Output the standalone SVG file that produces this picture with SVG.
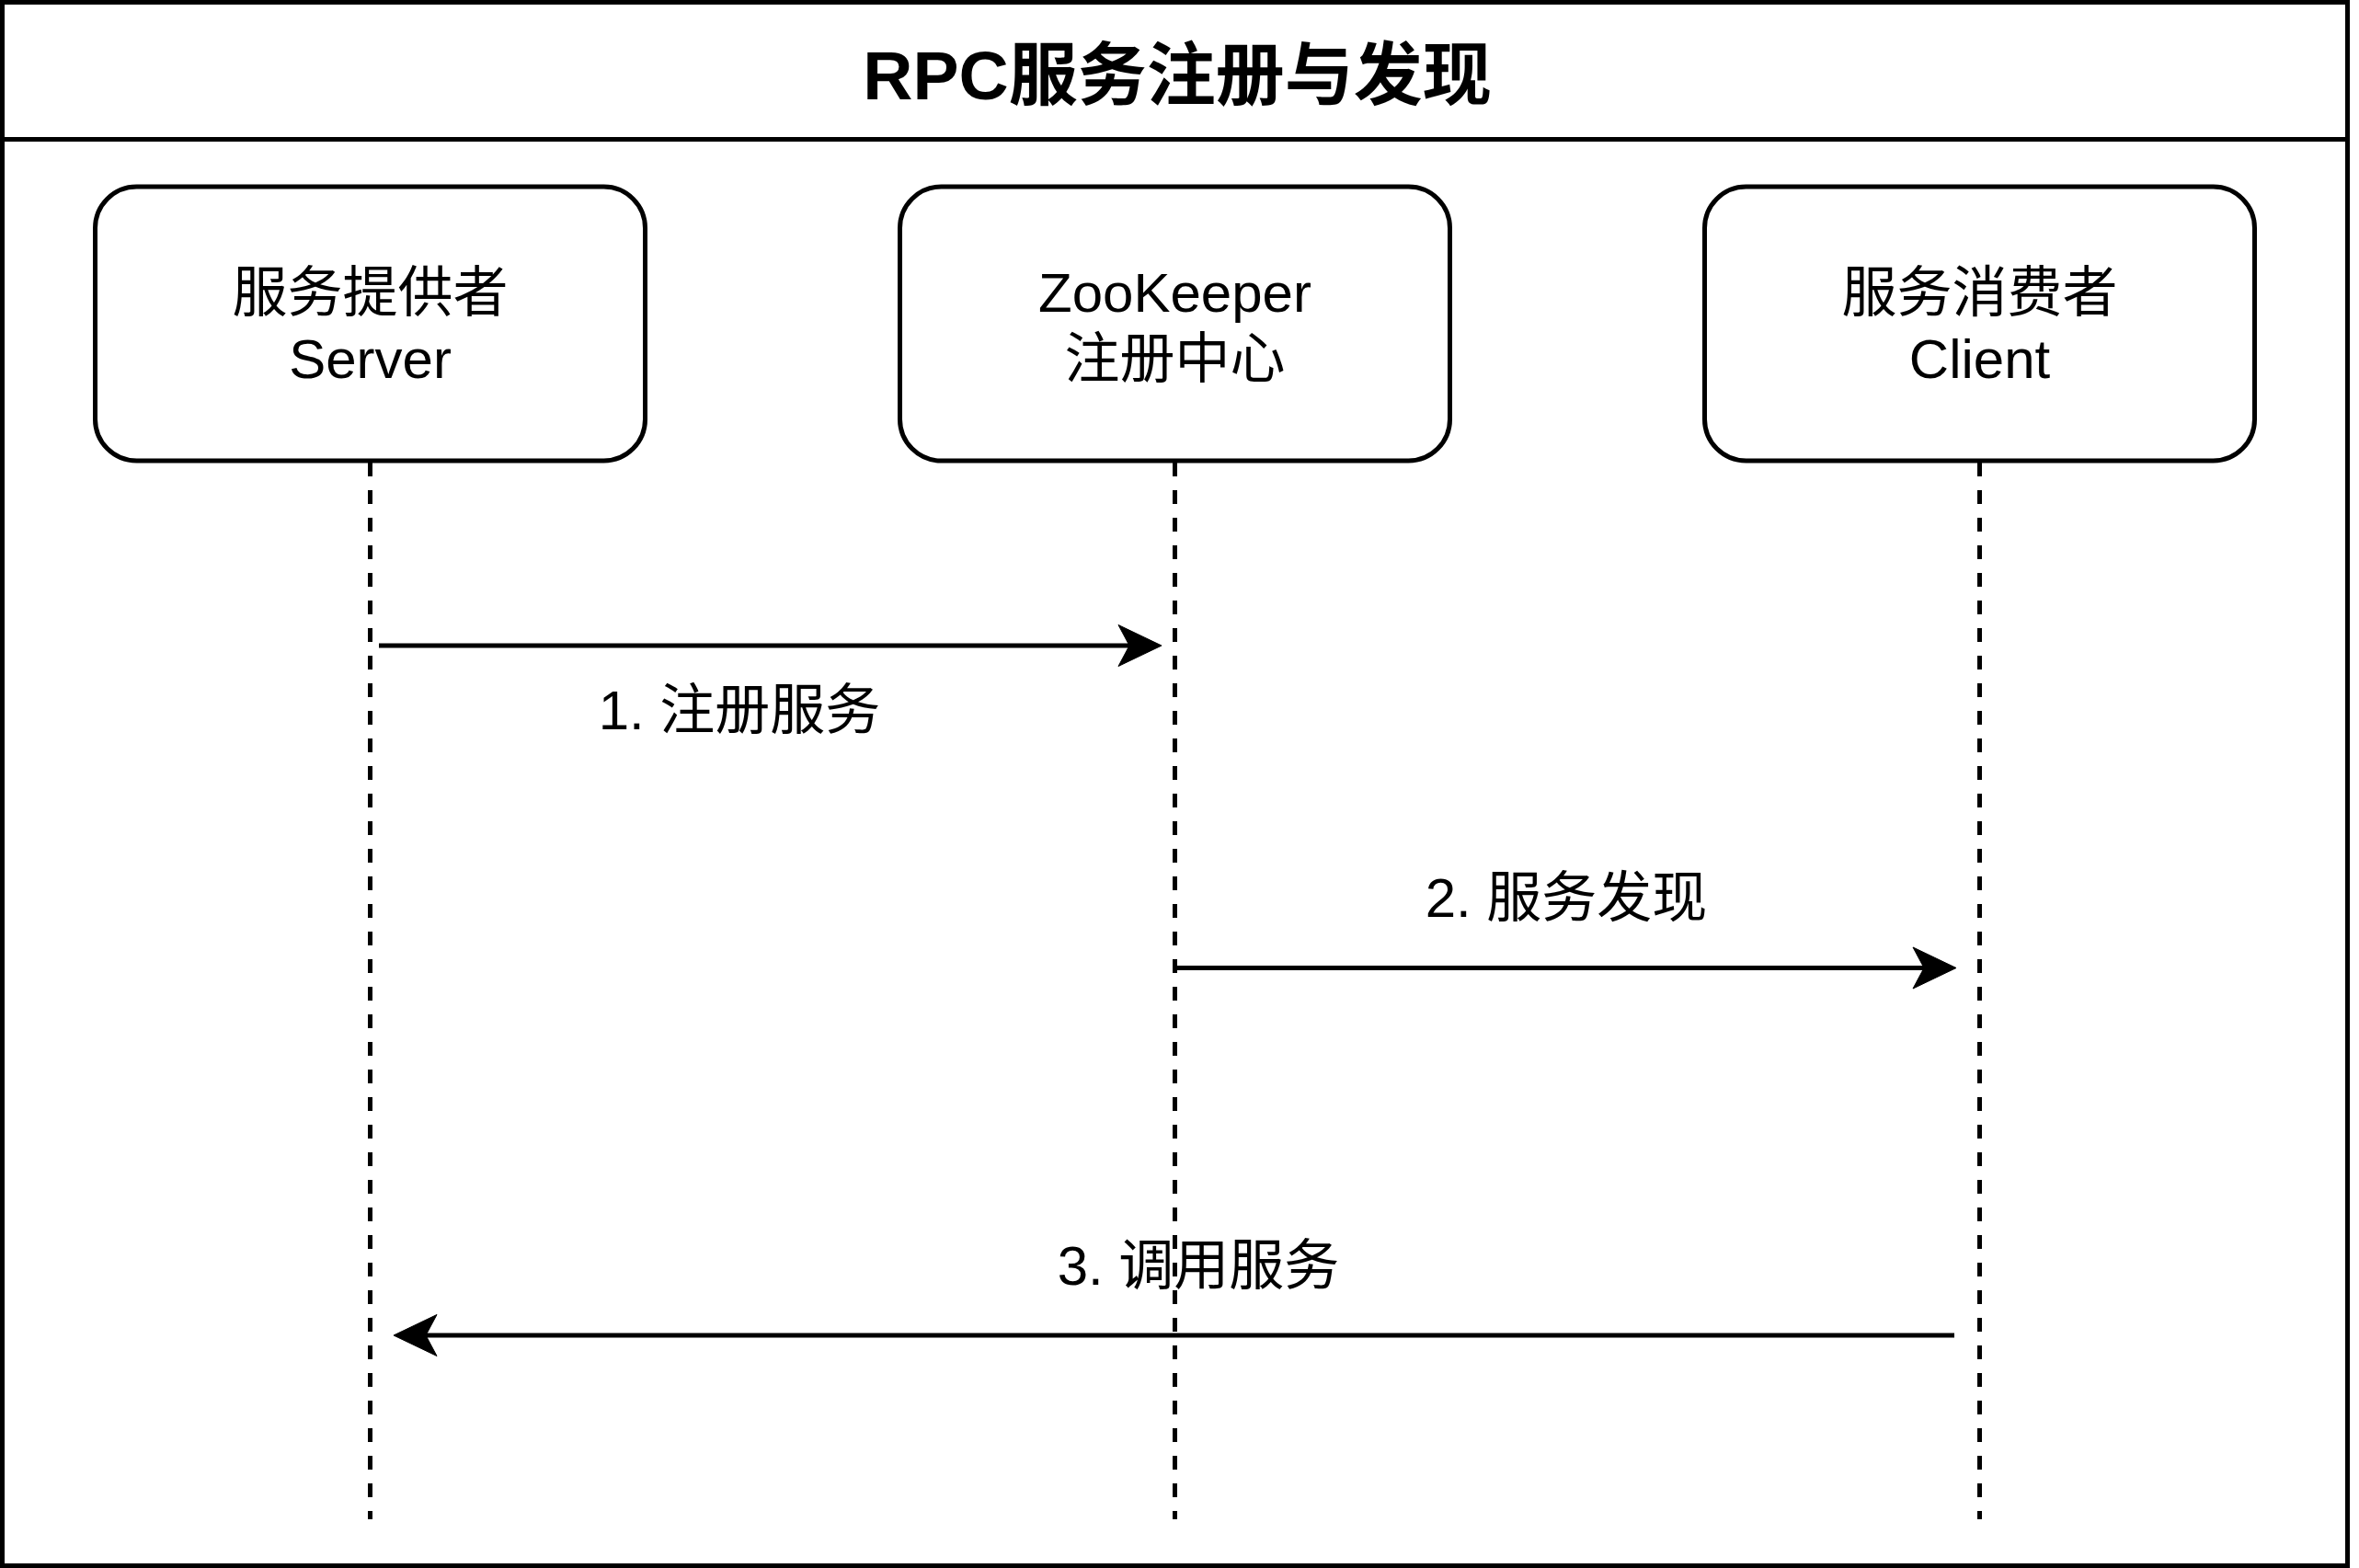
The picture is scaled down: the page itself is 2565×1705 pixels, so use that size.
<svg xmlns="http://www.w3.org/2000/svg" width="2565" height="1705" viewBox="0 0 2565 1705">
  <style>
    .frame { fill: #ffffff; stroke: #000000; stroke-width: 5; }
    .node rect { fill: #ffffff; stroke: #000000; stroke-width: 5; }
    .txt { font-family: "Liberation Sans", Arial, "Noto Sans CJK SC", sans-serif; font-size: 60px; fill: #000000; text-anchor: middle; }
    .title { font-family: "Liberation Sans", Arial, "Noto Sans CJK SC", sans-serif; font-size: 75px; font-weight: bold; fill: #000000; text-anchor: middle; }
    .life { stroke: #000000; stroke-width: 5; stroke-dasharray: 15 15; fill: none; }
    .msg { stroke: #000000; stroke-width: 5; fill: none; }
    .head { fill: #000000; stroke: #000000; stroke-width: 1; }
  </style>

  <g id="frame">
    <rect class="frame" x="2.5" y="2.5" width="2550" height="1700"/>
    <line x1="2.5" y1="151.5" x2="2552.5" y2="151.5" stroke="#000000" stroke-width="5"/>
    <text class="title" x="1280" y="108">RPC服务注册与发现</text>
  </g>

  <g id="lifelines">
    <line class="life" x1="402.5" y1="503" x2="402.5" y2="1652"/>
    <line class="life" x1="1277.5" y1="503" x2="1277.5" y2="1652"/>
    <line class="life" x1="2152.5" y1="503" x2="2152.5" y2="1652"/>
  </g>

  <g id="node-server" class="node">
    <rect x="103.5" y="203" width="598" height="298" rx="45" ry="45"/>
    <text class="txt" x="402.5" y="339">服务提供者</text>
    <text class="txt" x="402.5" y="411">Server</text>
  </g>

  <g id="node-zookeeper" class="node">
    <rect x="978.5" y="203" width="598" height="298" rx="45" ry="45"/>
    <text class="txt" x="1277.5" y="339">ZooKeeper</text>
    <text class="txt" x="1277.5" y="411">注册中心</text>
  </g>

  <g id="node-client" class="node">
    <rect x="1853.5" y="203" width="598" height="298" rx="45" ry="45"/>
    <text class="txt" x="2152.5" y="339">服务消费者</text>
    <text class="txt" x="2152.5" y="411">Client</text>
  </g>

  <g id="connectors">
    <g id="msg1">
      <line class="msg" x1="412" y1="702" x2="1232" y2="702"/>
      <path class="head" d="M1263,702 L1216,679.5 L1228,702 L1216,724.5 Z"/>
      <text class="txt" x="804" y="793">1. 注册服务</text>
    </g>
    <g id="msg2">
      <line class="msg" x1="1277.5" y1="1052.5" x2="2096" y2="1052.5"/>
      <path class="head" d="M2127,1052.5 L2080,1030 L2092,1052.5 L2080,1075 Z"/>
      <text class="txt" x="1703" y="997">2. 服务发现</text>
    </g>
    <g id="msg3">
      <line class="msg" x1="2125" y1="1452" x2="459" y2="1452"/>
      <path class="head" d="M428,1452 L475,1429.5 L463,1452 L475,1474.5 Z"/>
      <text class="txt" x="1303" y="1397">3. 调用服务</text>
    </g>
  </g>
</svg>
